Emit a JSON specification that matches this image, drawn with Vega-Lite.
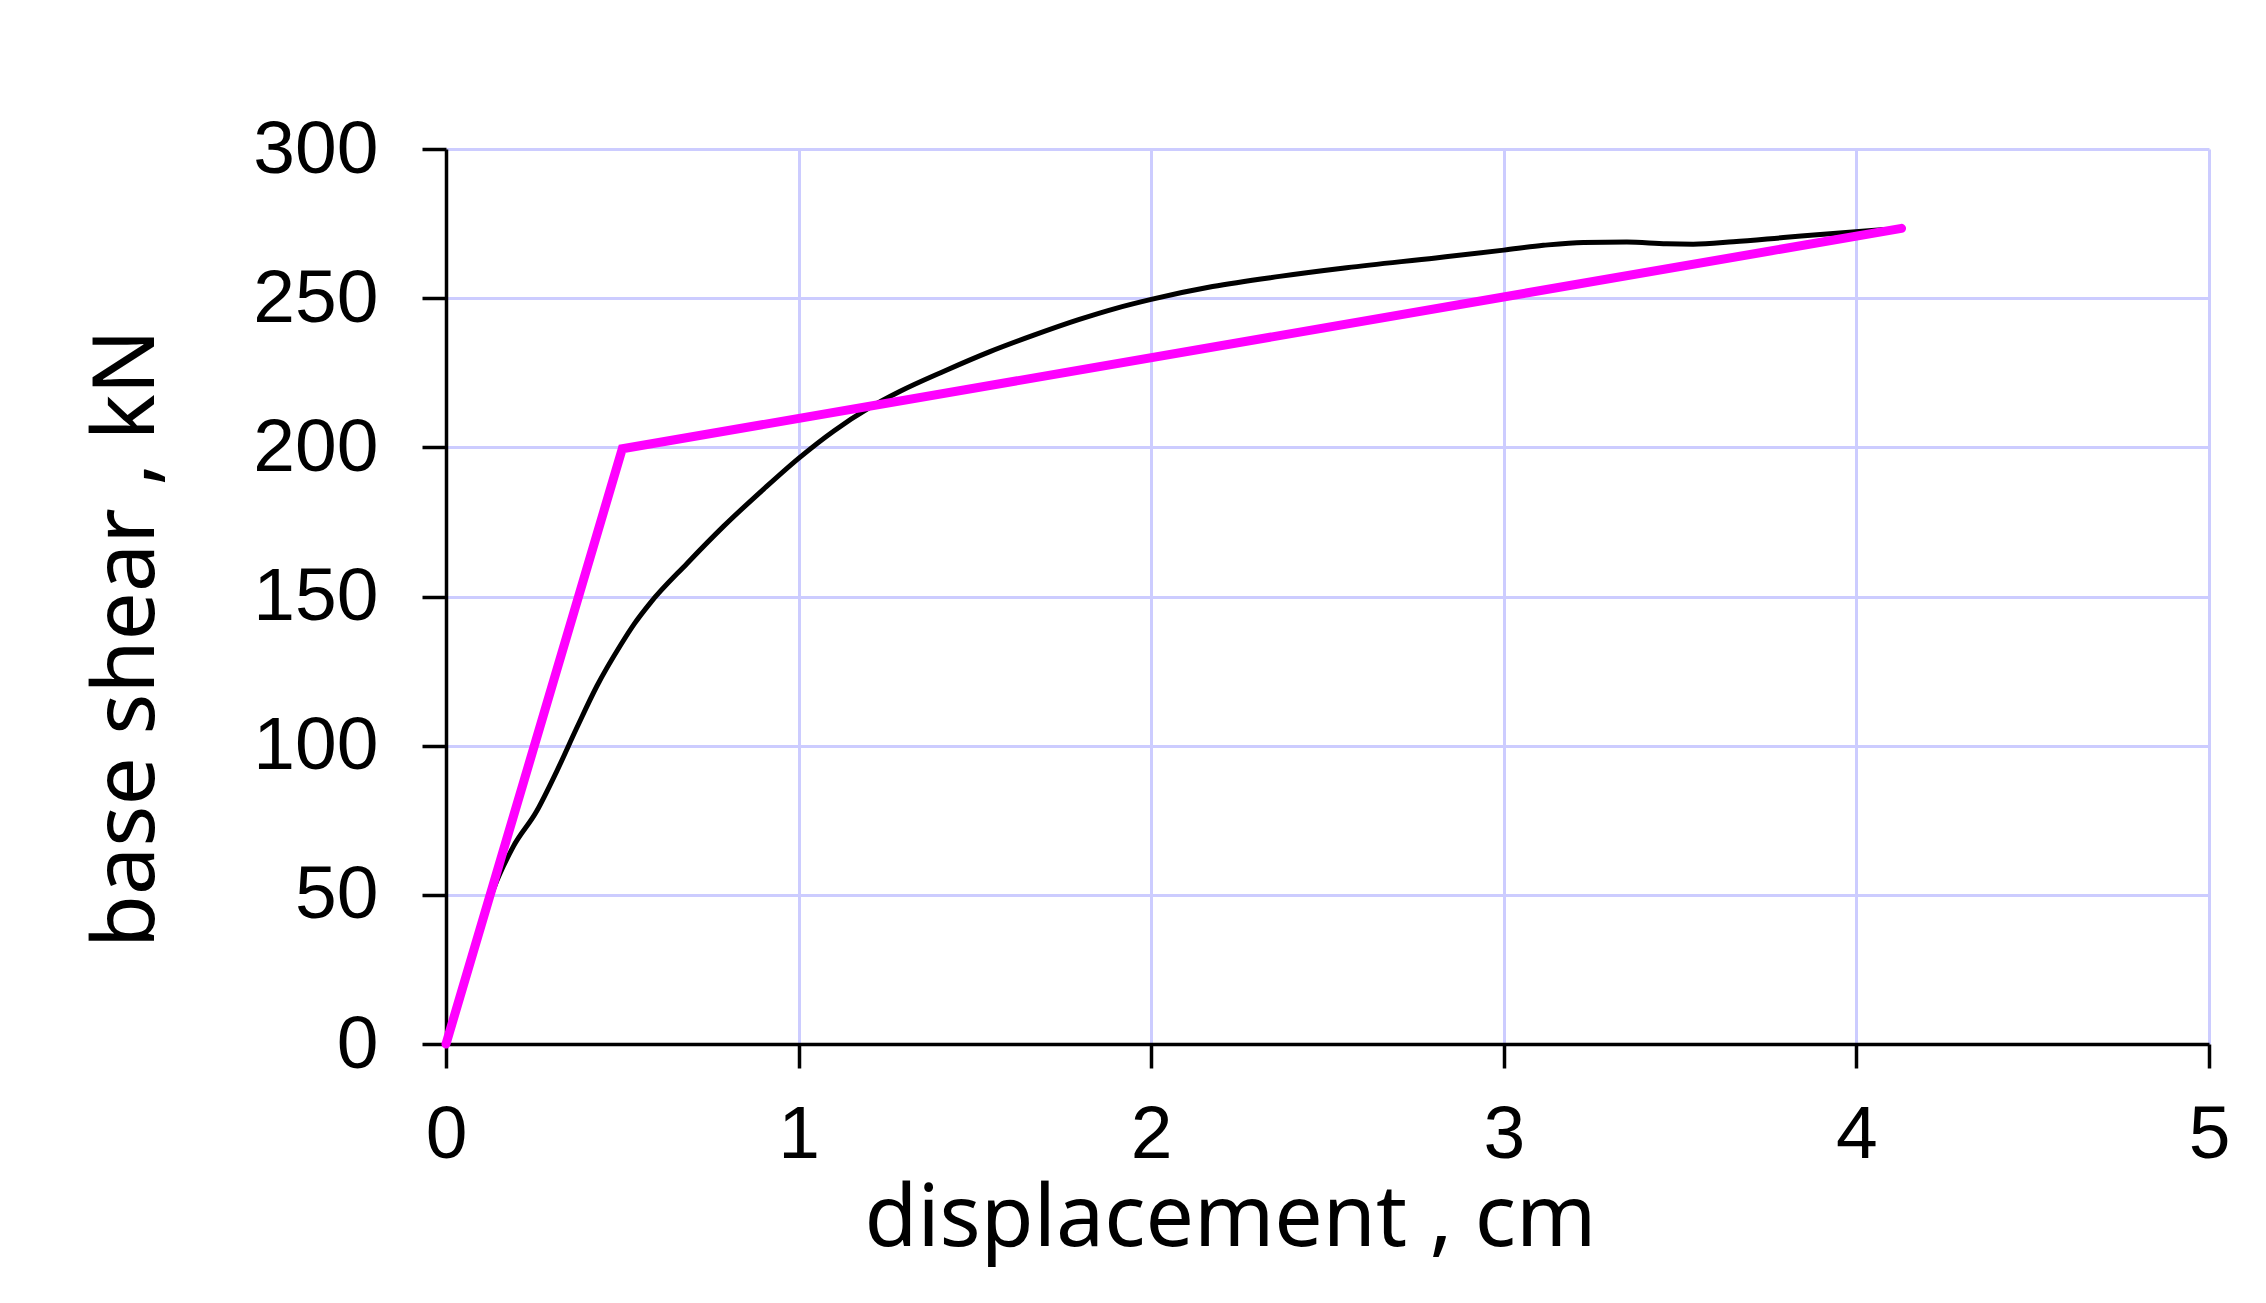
{
  "$schema": "https://vega.github.io/schema/vega-lite/v6.json",
  "width": 1763,
  "height": 895,
  "autosize": "none",
  "padding": {"left": 446, "top": 149, "right": 57, "bottom": 259},
  "background": "white",
  "config": {
    "view": {"stroke": null},
    "axis": {
      "domainColor": "black",
      "domainWidth": 3.5,
      "tickColor": "black",
      "tickWidth": 3.5,
      "tickSize": 24,
      "gridColor": "#ccccff",
      "gridWidth": 3,
      "gridOpacity": 1,
      "labelFont": "Liberation Sans",
      "labelFontSize": 75,
      "labelColor": "black",
      "titleFont": "Noto Sans",
      "titleFontSize": 86,
      "titleFontWeight": "normal",
      "titleColor": "black"
    }
  },
  "datasets": {
    "pushover": [
      {"d": 0, "v": 0},
      {"d": 0.07, "v": 27},
      {"d": 0.135, "v": 52},
      {"d": 0.19, "v": 66},
      {"d": 0.257, "v": 78},
      {"d": 0.314, "v": 91.4},
      {"d": 0.371, "v": 106},
      {"d": 0.428, "v": 120},
      {"d": 0.494, "v": 133.5},
      {"d": 0.535, "v": 141},
      {"d": 0.579, "v": 147.8},
      {"d": 0.683, "v": 161},
      {"d": 0.787, "v": 173.5},
      {"d": 0.901, "v": 186},
      {"d": 1.0, "v": 196.3},
      {"d": 1.1, "v": 205.5},
      {"d": 1.2, "v": 213.2},
      {"d": 1.288, "v": 218.8},
      {"d": 1.414, "v": 225.6},
      {"d": 1.541, "v": 232},
      {"d": 1.667, "v": 237.6},
      {"d": 1.794, "v": 242.8},
      {"d": 1.9, "v": 246.6},
      {"d": 2.0, "v": 249.6},
      {"d": 2.174, "v": 253.9},
      {"d": 2.364, "v": 257.3},
      {"d": 2.554, "v": 260.2},
      {"d": 2.807, "v": 263.5},
      {"d": 3.0, "v": 266.1},
      {"d": 3.112, "v": 267.7},
      {"d": 3.226, "v": 268.7},
      {"d": 3.349, "v": 268.8},
      {"d": 3.462, "v": 268.2},
      {"d": 3.537, "v": 268.1},
      {"d": 3.651, "v": 268.9},
      {"d": 3.793, "v": 270.3},
      {"d": 3.934, "v": 271.7},
      {"d": 4.08, "v": 273}
    ],
    "bilinear": [
      {"d": 0, "v": 0},
      {"d": 0.5, "v": 199.5},
      {"d": 4.128, "v": 273.4}
    ]
  },
  "layer": [
    {
      "data": {"name": "pushover"},
      "mark": {"type": "line", "color": "black", "strokeWidth": 5, "interpolate": "monotone"},
      "encoding": {
        "x": {
          "field": "d", "type": "quantitative",
          "scale": {"domain": [0, 5], "nice": false, "zero": false},
          "axis": {
            "values": [0, 1, 2, 3, 4, 5],
            "format": "d",
            "title": "displacement , cm",
            "labelPadding": 30,
            "labelFlush": false,
            "titleX": 784,
            "titleY": 201,
            "titleAlign": "center",
            "titleBaseline": "alphabetic",
            "titleAnchor": null
          }
        },
        "y": {
          "field": "v", "type": "quantitative",
          "scale": {"domain": [0, 300], "nice": false, "zero": false},
          "axis": {
            "values": [0, 50, 100, 150, 200, 250, 300],
            "format": "d",
            "title": "base shear , kN",
            "labelPadding": 44,
            "labelFlush": false,
            "titleAngle": -90,
            "titleX": -293,
            "titleY": 489,
            "titleAlign": "center",
            "titleBaseline": "alphabetic",
            "titleAnchor": null
          }
        }
      }
    },
    {
      "data": {"name": "bilinear"},
      "mark": {"type": "line", "color": "#ff00ff", "strokeWidth": 9, "strokeCap": "round", "strokeJoin": "miter"},
      "encoding": {
        "x": {"field": "d", "type": "quantitative"},
        "y": {"field": "v", "type": "quantitative"}
      }
    }
  ]
}
